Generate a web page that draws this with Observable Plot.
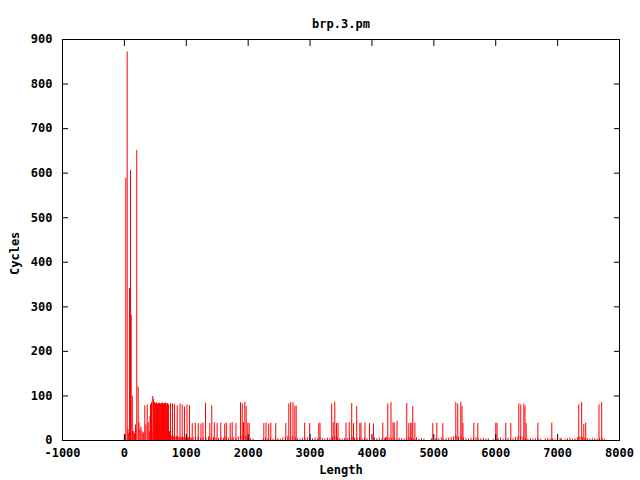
<!DOCTYPE html>
<html><head><meta charset="utf-8">
<script src="https://cdn.jsdelivr.net/npm/d3@7"></script>
<script src="https://cdn.jsdelivr.net/npm/@observablehq/plot@0.6"></script>
<style>body{margin:0;background:#fff}</style>
</head><body><div id="chart"></div>
<script>
const title = "brp.3.pm";
const xLabel = "Length";
const yLabel = "Cycles";
const xTicks = [-1000, 0, 1000, 2000, 3000, 4000, 5000, 6000, 7000, 8000];
const yTicks = [0, 100, 200, 300, 400, 500, 600, 700, 800, 900];

const peakLengths = [23, 45, 83, 99, 110, 128, 200, 223];
const peakCycles  = [588, 872, 341, 606, 281, 100, 651, 120];

const tallLengths = [330, 369, 422, 438, 459, 470, 487, 503, 519, 535, 551, 567, 583, 600, 616, 632, 648, 664, 680, 697,
  713, 745, 777, 810, 853, 899, 934, 971, 1012, 1052, 1311, 1412, 1876, 1904, 1946, 1968, 2657, 2687, 2724, 2754,
  2776, 3350, 3400, 3673, 3754, 4256, 4308, 4563, 4660, 5355, 5387, 5436, 5455, 6373, 6405, 6454, 6473, 7342, 7389, 7669, 7712];
const tallCycles  = [78, 80, 80, 85, 99, 93, 86, 83, 84, 82, 83, 84, 82, 83, 84, 82, 83, 84, 82, 83,
  80, 83, 82, 80, 78, 82, 80, 75, 80, 78, 83, 78, 85, 82, 86, 76, 82, 85, 85, 77,
  77, 82, 86, 83, 76, 82, 85, 83, 76, 85, 82, 86, 77, 82, 80, 82, 77, 80, 85, 80, 85];

const midLengths = [1096, 1146, 1193, 1238, 1270, 1380, 1453, 1498, 1558, 1621, 1647, 1710, 1742, 1803, 1925, 1994, 2017,
  2253, 2288, 2332, 2366, 2445, 2608, 2913, 2994, 3141, 3161, 3374, 3427, 3452, 3581, 3633, 3702, 3804, 3823, 3888,
  3961, 4025, 4175, 4340, 4360, 4405, 4596, 4626, 4647, 4694, 4983, 5048, 5145, 5471, 5646, 5710, 6001, 6022, 6163,
  6244, 6492, 6681, 6906, 7423, 7454];
const midCycles  = [38, 39, 38, 37, 39, 38, 40, 38, 39, 37, 39, 38, 40, 38, 40, 39, 38,
  38, 39, 37, 39, 38, 38, 39, 38, 39, 38, 40, 38, 39, 39, 40, 38, 38, 39, 39,
  38, 37, 39, 40, 39, 43, 38, 39, 38, 39, 38, 39, 38, 38, 39, 38, 39, 38, 39,
  38, 38, 39, 39, 36, 39];

const earlyLengths = [8, 16, 58, 70, 135, 150, 163, 180, 236, 252, 268, 285, 301, 314, 346, 385, 401, 414, 430,
  445, 480, 495, 510, 530, 545, 560, 575, 590, 610, 625, 640, 655, 670, 690, 705, 729, 740, 755, 770,
  790, 805, 820, 840, 860, 880, 900, 920, 940, 960, 980, 1000, 1020, 1040, 1060, 1080];
const earlyCycles  = [8, 12, 25, 15, 20, 20, 15, 35, 40, 25, 30, 20, 15, 18, 35, 40, 20, 55, 15,
  20, 10, 15, 12, 10, 14, 12, 10, 12, 9, 11, 10, 8, 12, 10, 9, 20, 8, 10, 9,
  8, 10, 7, 9, 8, 7, 8, 6, 8, 7, 6, 8, 6, 7, 6, 5];

const noiseLengths = [1110, 1150, 1190, 1230, 1270, 1320, 1360, 1400, 1440, 1480, 1520, 1560, 1600, 1640, 1680, 1720, 1760, 1800, 1840, 1880, 1920, 1960, 2000, 2040, 2080,
  2240, 2280, 2320, 2360, 2400, 2440, 2480, 2520, 2560, 2600,
  2640, 2680, 2720, 2760, 2800, 2840, 2880, 2920, 2960, 3000,
  3040, 3080, 3120, 3160, 3200, 3240, 3280, 3320, 3360, 3400,
  3440, 3480, 3520, 3560, 3600, 3640, 3680, 3720, 3760, 3800,
  3840, 3880, 3920, 3960, 4040, 4080, 4120, 4160, 4200, 4220,
  4240, 4280, 4320, 4360, 4400, 4440, 4480, 4520, 4560, 4600,
  4640, 4680, 4720, 4760, 4800, 4840,
  4960, 5030, 5040, 5080, 5120, 5160, 5200, 5240, 5280, 5320,
  5360, 5400, 5440, 5480, 5520, 5560, 5600, 5640, 5680, 5720,
  5760, 5800, 5840, 5880, 5960, 6000, 6040, 6080, 6120, 6160,
  6200, 6240, 6280, 6320, 6360, 6400, 6440, 6480, 6520, 6560,
  6600, 6640, 6680, 6720, 6800, 6840, 6880, 6920, 6960, 7040,
  7060, 7120, 7160, 7200, 7240, 7280, 7320, 7360, 7400, 7440,
  7480, 7520, 7560, 7600, 7640, 7680, 7720, 7760];
const noiseCycles = [6, 5, 7, 4, 6, 5, 8, 4, 6, 5, 4, 6, 5, 7, 4, 5, 6, 4, 8, 10, 12, 9, 6, 4, 3,
  3, 5, 4, 6, 3, 5, 4, 3, 6, 7,
  9, 8, 10, 6, 4, 3, 5, 4, 6, 3,
  4, 5, 3, 6, 4, 3, 5, 4, 7, 9,
  6, 4, 3, 5, 4, 6, 8, 5, 4, 6,
  3, 5, 4, 3, 6, 4, 5, 3, 4, 6,
  8, 5, 4, 6, 3, 5, 4, 3, 6, 7,
  5, 4, 6, 3, 4, 3,
  4, 3, 5, 4, 6, 3, 4, 5, 6, 8,
  10, 7, 9, 5, 4, 3, 5, 4, 6, 3,
  4, 5, 3, 4, 3, 5, 4, 6, 3, 4,
  5, 3, 4, 6, 8, 9, 7, 5, 3, 4,
  3, 4, 5, 3, 4, 5, 3, 4, 3, 5,
  4, 3, 4, 5, 3, 4, 6, 8, 7, 5,
  4, 3, 5, 4, 3, 5, 4, 3];

const data = [];
function add(ls, cs) { ls.forEach((l, i) => data.push({length: l, cycles: cs[i]})); }
add(noiseLengths, noiseCycles);
add(earlyLengths, earlyCycles);
add(midLengths, midCycles);
add(tallLengths, tallCycles);
add(peakLengths, peakCycles);

const font = "'DejaVu Sans Mono', 'Liberation Mono', monospace";
const blank = () => "";
const plain = d => String(d);
const fs = 12;
const chart = Plot.plot({
  width: 640, height: 480,
  marginLeft: 62, marginRight: 21, marginTop: 39, marginBottom: 40,
  style: {fontFamily: font, fontSize: "12px", fontWeight: "bold", background: "white", color: "black"},
  x: {domain: [-1000, 8000]},
  y: {domain: [0, 900]},
  marks: [
    Plot.ruleX(data, {x: "length", y1: 0, y2: "cycles", stroke: "#ff0000", strokeWidth: 1}),
    Plot.frame({stroke: "black"}),
    Plot.axisX({ticks: xTicks, tickSize: 0, tickPadding: 8, tickFormat: plain, fontSize: fs, fontWeight: "bold", label: null}),
    Plot.axisX({ticks: xTicks, tickSize: -6, tickFormat: blank, label: null}),
    Plot.axisX({anchor: "top", ticks: xTicks, tickSize: -6, tickFormat: blank, label: null}),
    Plot.axisY({ticks: yTicks, tickSize: 0, tickPadding: 10, tickFormat: plain, fontSize: fs, fontWeight: "bold", label: null}),
    Plot.axisY({ticks: yTicks, tickSize: -6, tickFormat: blank, label: null}),
    Plot.axisY({anchor: "right", ticks: yTicks, tickSize: -6, tickFormat: blank, label: null}),
    Plot.text([title], {frameAnchor: "top", dy: -20, text: d => d, fontSize: fs, fontWeight: "bold"}),
    Plot.text([xLabel], {frameAnchor: "bottom", dy: 33, text: d => d, fontSize: fs, fontWeight: "bold"}),
    Plot.text([yLabel], {frameAnchor: "left", dx: -47, dy: 35, rotate: -90, text: d => d, fontSize: fs, fontWeight: "bold"})
  ]
});
document.getElementById("chart").appendChild(chart);
</script>
</body></html>
